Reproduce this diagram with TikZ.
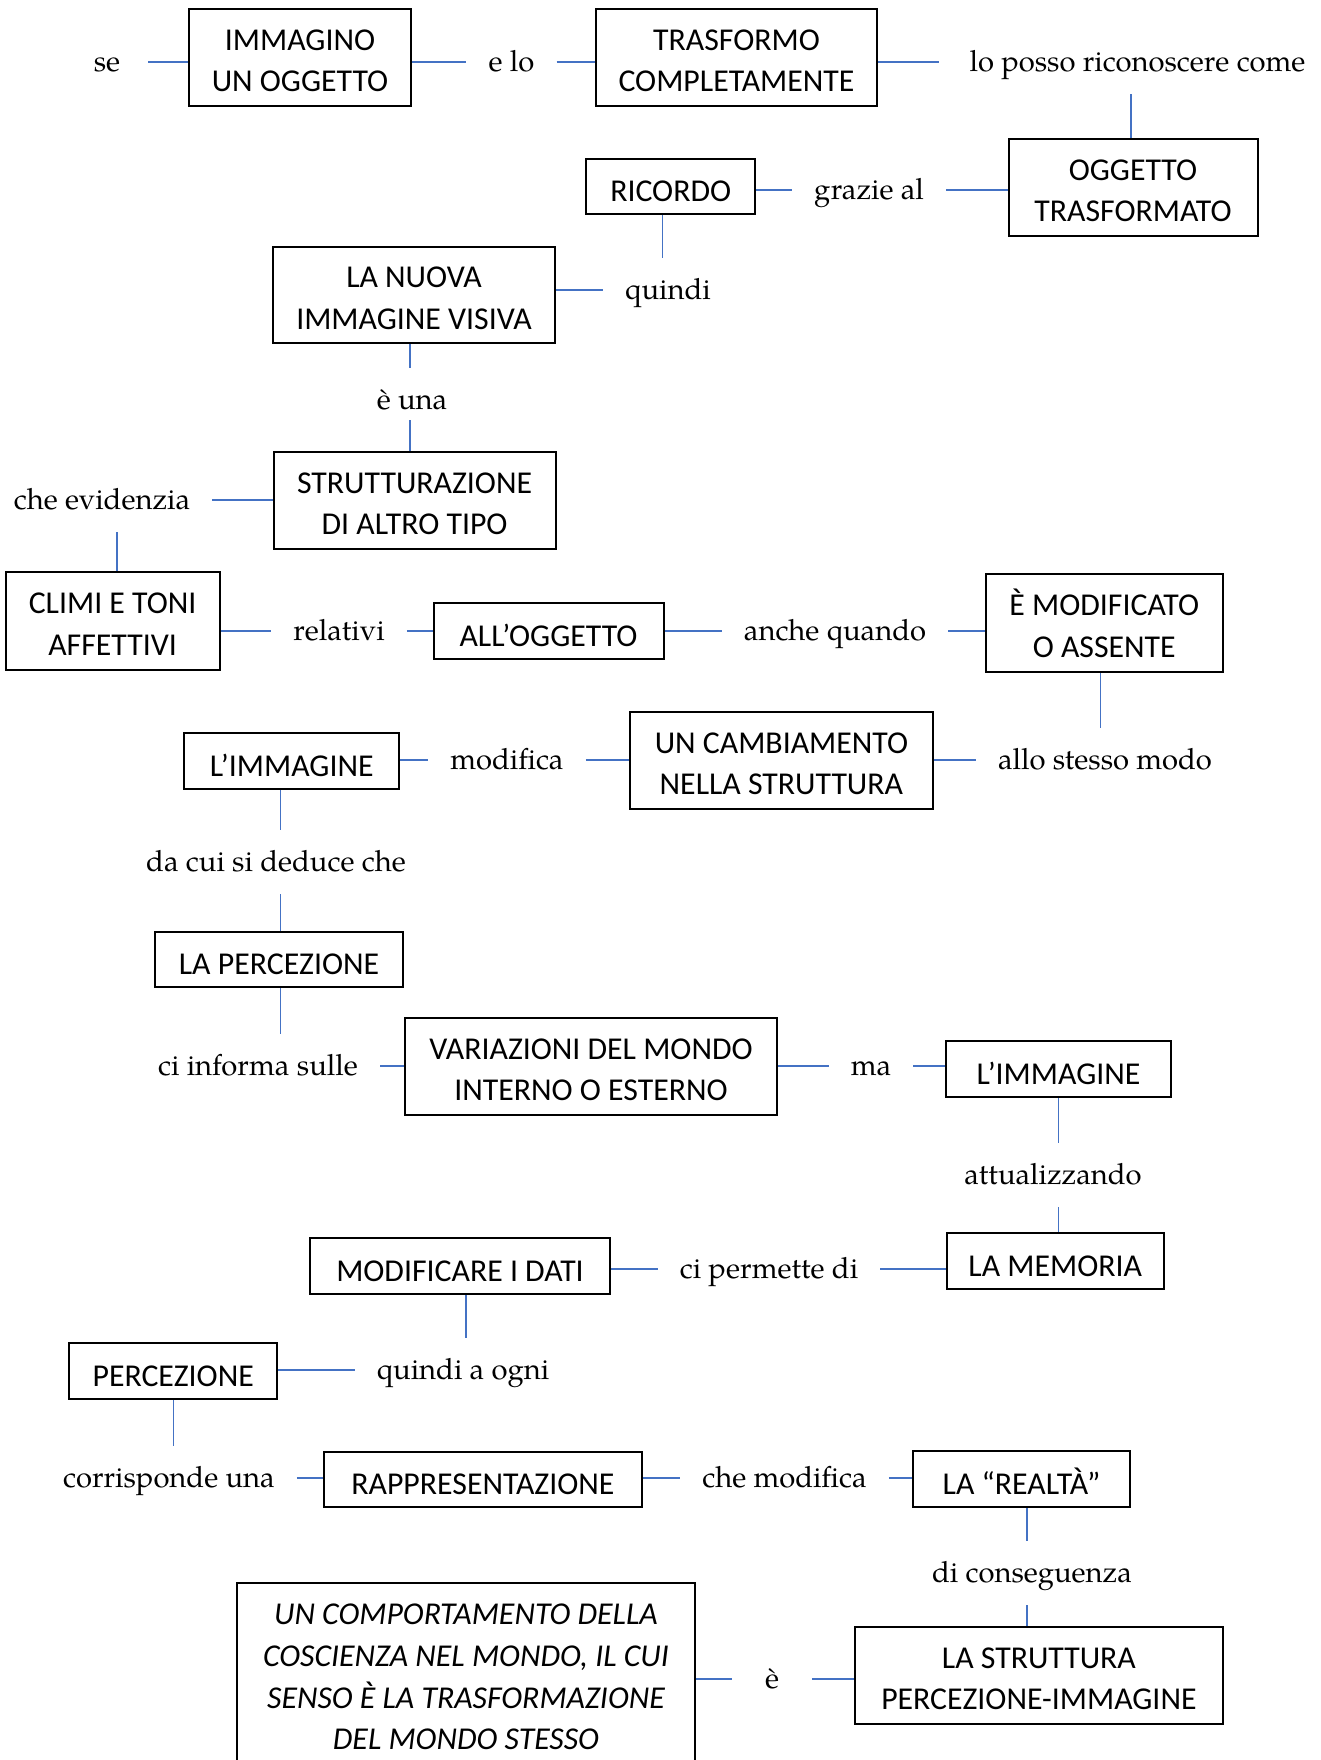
\documentclass[tikz,border=0pt]{standalone}
\usepackage{fontspec}
\setmainfont{TeX Gyre Pagella}
\newfontfamily\boxfont{Carlito}
\usetikzlibrary{calc}
\definecolor{linkblue}{RGB}{68,114,196}
\newcommand{\bx}[1]{\raisebox{-7pt}[\height][\depth]{\begin{tabular}{@{}c@{}}#1\end{tabular}}}
\newcommand{\bxx}[1]{\raisebox{-5pt}[\height][\depth]{\begin{tabular}{@{}c@{}}#1\end{tabular}}}
\tikzset{
  box/.style={draw=black, line width=2pt, inner sep=0pt, font=\boxfont\fontsize{31.8}{41.5}\selectfont},
  lbl/.style={inner xsep=22pt, inner ysep=18pt, text height=23.5pt, text depth=4.3pt, font=\fontsize{29.2}{35}\selectfont},
  link/.style={draw=linkblue, line width=1.3pt},
}
\begin{document}
\begin{tikzpicture}[x=1pt,y=-1pt]
\useasboundingbox (0,0) rectangle (1320,1760);
\fill[white] (0,0) rectangle (1320,1760);
\clip (0,0) rectangle (1320,1760);

% boxes
\node[box, minimum width=222pt, minimum height=97pt] (immagino) at (300,57.5) {\bxx{IMMAGINO\\UN OGGETTO}};
\node[box, minimum width=281pt, minimum height=97pt] (trasformo) at (736.5,57.5) {\bxx{TRASFORMO\\COMPLETAMENTE}};
\node[box, minimum width=249pt, minimum height=97pt] (oggtr) at (1133,187.5) {\bxx{OGGETTO\\TRASFORMATO}};
\node[box, minimum width=169.5pt, minimum height=55pt] (ricordo) at (670.7,186.5) {\bx{RICORDO}};
\node[box, minimum width=282pt, minimum height=96pt] (nuova) at (414,295) {\bxx{LA NUOVA\\IMMAGINE VISIVA}};
\node[box, minimum width=282pt, minimum height=97pt] (strutt) at (414.6,500.5) {\bxx{STRUTTURAZIONE\\DI ALTRO TIPO}};
\node[box, minimum width=214pt, minimum height=98pt] (climi) at (112.6,621) {\bxx{CLIMI E TONI\\AFFETTIVI}};
\node[box, minimum width=230pt, minimum height=56pt] (alloggetto) at (548.5,631) {\bx{ALL’OGGETTO}};
\node[box, minimum width=237pt, minimum height=98pt] (emod) at (1104.3,623) {\bxx{È MODIFICATO\\O ASSENTE}};
\node[box, minimum width=302.7pt, minimum height=97pt] (cambio) at (781.4,760.5) {\bxx{UN CAMBIAMENTO\\NELLA STRUTTURA}};
\node[box, minimum width=215.4pt, minimum height=56pt] (limm) at (291.7,761) {\bx{L’IMMAGINE}};
\node[box, minimum width=248pt, minimum height=55pt] (laperc) at (279,959.5) {\bx{LA PERCEZIONE}};
\node[box, minimum width=372pt, minimum height=97pt] (variazioni) at (591,1066.5) {\bxx{VARIAZIONI DEL MONDO\\INTERNO O ESTERNO}};
\node[box, minimum width=225pt, minimum height=56pt] (limmb) at (1058.5,1069) {\bx{L’IMMAGINE}};
\node[box, minimum width=217pt, minimum height=56pt] (memoria) at (1055.2,1261) {\bx{LA MEMORIA}};
\node[box, minimum width=300pt, minimum height=56pt] (modificare) at (460,1266) {\bx{MODIFICARE I DATI}};
\node[box, minimum width=207.6pt, minimum height=56pt] (percezione) at (173.2,1371) {\bx{PERCEZIONE}};
\node[box, minimum width=317.8pt, minimum height=55pt] (rappr) at (482.9,1479.5) {\bx{RAPPRESENTAZIONE}};
\node[box, minimum width=217pt, minimum height=56pt] (realta) at (1021.5,1479) {\bx{LA “REALTÀ”}};
\node[box, minimum width=367.7pt, minimum height=97pt] (struttura) at (1038.9,1675.5) {\bxx{LA STRUTTURA\\PERCEZIONE-IMMAGINE}};
\node[box, minimum width=458pt, minimum height=192pt, font=\boxfont\itshape\fontsize{31.8}{41.6}\selectfont] (comport) at (466,1679)
  {\begin{tabular}{@{}c@{}}UN COMPORTAMENTO DELLA\\COSCIENZA NEL MONDO, IL CUI\\SENSO È LA TRASFORMAZIONE\\DEL MONDO STESSO\end{tabular}};

% labels
\node[lbl, inner xsep=28pt] (lse) at (107,62) {se};
\node[lbl] (lelo) at (511.5,62) {e lo};
\node[lbl, inner xsep=30pt] (llo) at (1137.5,62) {lo posso riconoscere come};
\node[lbl] (lgrazie) at (869,190) {grazie al};
\node[lbl] (lquindi) at (668,290) {quindi};
\node[lbl] (leuna) at (412,400) {è una};
\node[lbl] (lcheev) at (102,500) {che evidenzia};
\node[lbl] (lrelativi) at (339,631) {relativi};
\node[lbl] (lanche) at (835,631) {anche quando};
\node[lbl] (lallo) at (1105,760) {allo stesso modo};
\node[lbl] (lmodifica) at (507,760) {modifica};
\node[lbl] (ldacui) at (276,862) {da cui si deduce che};
\node[lbl] (lciinf) at (258,1066) {ci informa sulle};
\node[lbl] (lma) at (871,1066) {ma};
\node[lbl] (lattual) at (1053,1175) {attualizzando};
\node[lbl] (lciperm) at (769,1269) {ci permette di};
\node[lbl] (lquindiogni) at (463,1370) {quindi a ogni};
\node[lbl] (lcorrisp) at (169,1478) {corrisponde una};
\node[lbl] (lchemod) at (784.5,1478) {che modifica};
\node[lbl] (ldicons) at (1032,1573) {di conseguenza};
\node[lbl, inner xsep=33pt] (le) at (772,1679) {è};

% horizontal connectors
\draw[link] (lse.east) -- (lse.east -| immagino.west);
\draw[link] (lelo.west -| immagino.east) -- (lelo.west);
\draw[link] (lelo.east) -- (lelo.east -| trasformo.west);
\draw[link] (llo.west -| trasformo.east) -- (llo.west);
\draw[link] (lgrazie.east) -- (lgrazie.east -| oggtr.west);
\draw[link] (lgrazie.west -| ricordo.east) -- (lgrazie.west);
\draw[link] (lquindi.west -| nuova.east) -- (lquindi.west);
\draw[link] (lcheev.east) -- (lcheev.east -| strutt.west);
\draw[link] (lrelativi.west -| climi.east) -- (lrelativi.west);
\draw[link] (lrelativi.east) -- (lrelativi.east -| alloggetto.west);
\draw[link] (lanche.west -| alloggetto.east) -- (lanche.west);
\draw[link] (lanche.east) -- (lanche.east -| emod.west);
\draw[link] (lallo.west -| cambio.east) -- (lallo.west);
\draw[link] (lmodifica.east) -- (lmodifica.east -| cambio.west);
\draw[link] (lmodifica.west -| limm.east) -- (lmodifica.west);
\draw[link] (lciinf.east) -- (lciinf.east -| variazioni.west);
\draw[link] (lma.west -| variazioni.east) -- (lma.west);
\draw[link] (lma.east) -- (lma.east -| limmb.west);
\draw[link] (lciperm.east) -- (lciperm.east -| memoria.west);
\draw[link] (lciperm.west -| modificare.east) -- (lciperm.west);
\draw[link] (lquindiogni.west -| percezione.east) -- (lquindiogni.west);
\draw[link] (lcorrisp.east) -- (lcorrisp.east -| rappr.west);
\draw[link] (lchemod.west -| rappr.east) -- (lchemod.west);
\draw[link] (lchemod.east) -- (lchemod.east -| realta.west);
\draw[link] (le.east) -- (le.east -| struttura.west);
\draw[link] (le.west -| comport.east) -- (le.west);

% vertical connectors
\draw[link] ([xshift=-2pt]oggtr.north) -- ([xshift=-2pt]oggtr.north |- llo.south);
\draw[link] ([xshift=-8pt]ricordo.south) -- ([xshift=-8pt]ricordo.south |- lquindi.north);
\draw[link] ([xshift=-4pt]nuova.south) -- ([xshift=-4pt]nuova.south |- leuna.north);
\draw[link] ([xshift=-4.5pt]strutt.north) -- ([xshift=-4.5pt,yshift=12pt]strutt.north |- leuna.south);
\draw[link] ([xshift=4.4pt]climi.north) -- ([xshift=4.4pt]climi.north |- lcheev.south);
\draw[link] ([xshift=-3.7pt]emod.south) -- ([xshift=-3.7pt]emod.south |- lallo.north);
\draw[link] ([xshift=-11pt]limm.south) -- ([xshift=-11pt]limm.south |- ldacui.north);
\draw[link] ([xshift=1.7pt]laperc.north) -- ([xshift=1.7pt]laperc.north |- ldacui.south);
\draw[link] ([xshift=1.7pt]laperc.south) -- ([xshift=1.7pt]laperc.south |- lciinf.north);
\draw[link] (limmb.south) -- (limmb.south |- lattual.north);
\draw[link] ([xshift=3.4pt]memoria.north) -- ([xshift=3.4pt]memoria.north |- lattual.south);
\draw[link] ([xshift=6pt]modificare.south) -- ([xshift=6pt]modificare.south |- lquindiogni.north);
\draw[link] (percezione.south) -- (percezione.south |- lcorrisp.north);
\draw[link] ([xshift=5.5pt]realta.south) -- ([xshift=5.5pt]realta.south |- ldicons.north);
\draw[link] ([xshift=-12pt]struttura.north) -- ([xshift=-12pt]struttura.north |- ldicons.south);
\end{tikzpicture}
\end{document}
